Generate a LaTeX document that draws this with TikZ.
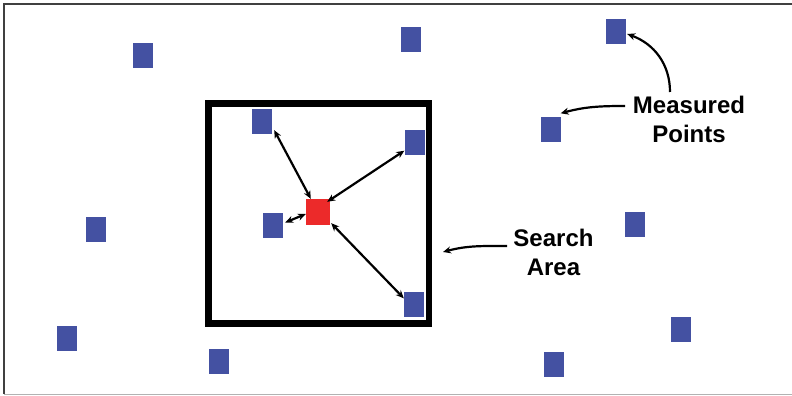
\documentclass[tikz,border=0pt]{standalone}
\usepackage{fontspec}
\setmainfont{Liberation Sans}
\usetikzlibrary{arrows.meta}

\definecolor{ptblue}{RGB}{68,81,162}
\definecolor{ptred}{RGB}{236,42,42}

\begin{document}
\begin{tikzpicture}[
    x=1pt, y=1pt,
    meas/.style={rectangle, fill=ptblue, minimum width=20pt, minimum height=25pt, inner sep=0pt},
    est/.style={rectangle, fill=ptred, minimum width=24pt, minimum height=26pt, inner sep=0pt},
    label/.style={font=\fontsize{24}{29}\selectfont\bfseries, align=center, inner sep=0pt},
    arrow/.style={{Stealth[length=8pt,width=7pt]}-{Stealth[length=8pt,width=7pt]}, line width=2.2pt},
    pointer/.style={-{Stealth[length=8pt,width=7pt]}, line width=2.2pt}
]

% Background and frame
\useasboundingbox (0,0) rectangle (792,396);
\fill[white] (0,0) rectangle (792,396);
\draw[black!75, line width=1.5pt] (792,392) -- (4,392) -- (4,1.5);
\draw[black!30, line width=1.2pt] (4,1.5) -- (792,1.5);

% Search area
\draw[line width=6.5pt] (208.5,72.5) rectangle (429,292.5);

% Measured points
\node[meas] (p1) at (143,340.5) {};
\node[meas] (p2) at (411,356.5) {};
\node[meas] (p3) at (616,364) {};
\node[meas] (p4) at (550.5,266) {};
\node[meas] (p5) at (262,274.5) {};
\node[meas] (p6) at (414.5,253) {};
\node[meas] (p7) at (96,166.5) {};
\node[meas] (p8) at (273,170.5) {};
\node[meas] (p9) at (634.5,171) {};
\node[meas] (p10) at (414,91) {};
\node[meas] (p11) at (67,57.5) {};
\node[meas] (p12) at (219,34.5) {};
\node[meas] (p13) at (681,66) {};
\node[meas] (p14) at (554,31.5) {};

% Estimated point
\node[est] (est) at (318,184) {};

% Labels
\node[label] (measured) at (689,277) {Measured\\Points};
\node[label] (search) at (553.5,144) {Search\\Area};

\coordinate (measured-up) at (670,304);
\coordinate (measured-left) at (625,290);
\coordinate (search-left) at (507,150);
\coordinate (area-edge) at (443,144);

% Distances to neighbours
\draw[arrow] ([xshift=5pt]est.north west) -- ([xshift=2pt,yshift=4pt]p5.south east);
\draw[arrow] ([xshift=-3pt,yshift=-3pt]est.north east) -- ([yshift=5pt]p6.south west);
\draw[arrow] ([xshift=1pt,yshift=2pt]est.south east) -- ([yshift=-6pt]p10.north west);
\draw[arrow] ([yshift=-2pt]est.west) -- ([xshift=2pt,yshift=3pt]p8.east);

% Label pointers
\draw[pointer] (measured-up) to[out=90, in=-20] ([xshift=1pt,yshift=-2pt]p3.east);
\draw[pointer] (measured-left) to[out=180, in=15] ([yshift=4pt]p4.north east);
\draw[pointer] (search-left) to[out=180, in=15] (area-edge);

\end{tikzpicture}
\end{document}
